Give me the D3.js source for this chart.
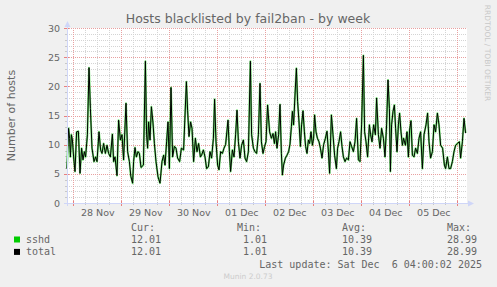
<!DOCTYPE html>
<html>
<head>
<meta charset="utf-8">
<script src="https://cdn.jsdelivr.net/npm/d3@7"></script>
<style>
  body { margin: 0; background: #f0f0f0; }
  svg text { font-family: "DejaVu Sans", sans-serif; }
  .mono { font-family: "DejaVu Sans Mono", monospace !important; white-space: pre; }
</style>
</head>
<body>
<script>
// fail2ban week graph, munin style
var title = "Hosts blacklisted by fail2ban - by week";
var yLabel = "Number of hosts";
var yTicks = [0, 5, 10, 15, 20, 25, 30];
var dayLabels = ["28 Nov", "29 Nov", "30 Nov", "01 Dec", "02 Dec", "03 Dec", "04 Dec", "05 Dec"];

// hours since 27 Nov 20:50, and sshd values
var hours = [0.0,0.8,1.3,1.7,2.2,2.7,3.3,4.0,4.8,5.7,6.5,7.3,8.0,8.7,9.3,10.2,11.0,11.7,12.5,13.5,
  14.3,15.0,16.0,16.8,17.5,18.3,19.2,20.0,20.8,21.7,22.7,23.3,24.0,25.0,25.8,26.7,27.5,28.3,29.5,30.3,
  31.2,31.9,32.8,33.3,34.0,34.7,35.5,36.2,37.0,38.2,39.2,39.8,40.3,40.8,41.5,42.2,43.0,43.7,44.5,45.5,
  46.5,47.5,48.3,49.0,49.8,50.5,51.2,52.0,52.8,53.7,54.5,55.3,56.3,57.2,58.3,59.7,60.3,61.0,61.8,62.5,
  63.3,64.2,65.0,65.8,66.7,67.3,68.2,69.0,69.8,70.7,71.5,72.3,73.2,73.8,74.5,75.3,76.0,76.8,77.7,78.5,
  79.3,80.5,81.2,81.8,82.7,83.5,84.3,85.0,85.7,86.5,87.3,88.2,89.0,89.8,90.7,91.7,92.3,93.2,94.0,94.8,
  95.7,96.5,97.2,98.0,98.8,99.5,100.3,101.3,102.2,103.0,103.7,104.3,105.0,105.8,106.5,107.2,107.7,108.3,109.2,110.0,
  110.8,111.5,112.2,112.7,113.3,114.0,114.7,115.3,116.0,116.7,117.3,118.0,118.7,119.3,120.0,120.7,121.3,122.0,122.7,123.3,
  123.8,124.5,125.2,126.0,126.7,127.5,128.3,129.2,130.0,130.7,131.3,132.2,133.0,133.8,134.7,135.3,136.0,136.8,137.5,138.2,
  139.0,139.8,140.7,141.5,142.3,143.2,144.0,144.8,145.7,146.5,147.3,148.2,148.8,149.5,150.3,151.2,151.8,152.5,153.3,154.2,
  154.8,155.7,156.5,157.3,158.2,159.0,159.8,160.5,161.2,161.7,162.3,163.0,163.7,164.3,165.0,165.7,166.3,167.0,167.7,168.3,
  169.2,170.0,170.7,171.3,172.0,172.7,173.5,174.3,175.2,176.0,176.8,177.7,178.5,179.5,180.3,181.0,181.8,182.7,183.5,184.3,
  185.2,186.0,186.8,187.8,188.7,189.3,190.2,191.0,191.8,192.7,193.5,194.3,195.2,196.2,196.8,197.7,198.5,199.3];
var sshdValues = [5.9,12.8,11.1,7.9,11.7,10.8,7.9,5.4,12.2,12.3,5.1,9.4,7.4,8.8,7.9,11.7,23.2,16.2,9.4,7.1,
  7.9,7.1,12.2,9.1,8.5,10.2,8.5,9.9,8.5,7.9,11.8,7.1,7.9,4.7,14.2,10.8,11.7,7.4,17.1,8.8,
  7.1,4.6,3.4,7.1,9.5,7.9,8.8,8.5,6.1,6.5,24.3,11.7,9.4,13.9,10.8,16.5,13.7,10.2,7.1,4.5,
  3.4,7.1,8.2,6.5,10.5,13.9,5.9,19.8,7.9,9.7,9.4,7.7,7.1,9.4,9.1,20.8,15.9,11.4,13.9,12.8,
  7.1,11.1,8.8,10.2,7.9,8.2,9.1,7.9,5.9,6.2,8.8,7.7,11.1,17.8,10.5,6.5,5.7,8.8,8.5,9.4,
  10.0,14.2,8.8,5.4,9.1,7.9,11.7,15.9,10.5,7.7,9.9,10.8,7.7,7.1,8.8,24.3,11.7,9.4,8.8,8.5,
  11.7,20.5,10.5,8.5,9.7,10.5,16.8,12.2,11.1,11.9,10.2,12.2,9.4,11.7,16.9,8.5,4.8,6.5,7.7,8.2,
  8.8,10.1,13.1,15.7,13.4,18.5,23.1,17.4,13.9,9.7,13.4,15.8,12.2,9.7,8.5,10.8,10.2,12.2,9.9,11.1,
  15.1,12.2,11.1,10.5,9.4,7.7,10.0,11.1,12.3,8.8,5.1,15.1,11.7,8.2,5.9,9.4,10.5,12.2,9.7,7.9,
  7.1,7.7,7.4,10.5,9.7,8.8,10.5,14.5,7.4,7.1,13.4,25.3,12.2,10.5,7.9,13.4,11.7,10.5,13.4,11.7,
  18.0,11.7,9.4,12.8,11.1,7.9,13.4,21.1,16.2,5.4,13.4,15.7,16.8,12.8,8.8,13.4,15.4,12.2,9.9,11.1,
  9.9,12.2,7.9,12.5,14.1,8.2,7.9,9.4,8.5,11.1,12.2,5.9,11.7,13.4,15.4,10.5,7.7,8.8,13.4,12.2,
  15.4,13.4,9.9,9.4,6.5,5.9,7.9,5.9,5.9,7.1,8.8,9.9,10.2,10.5,7.7,10.5,14.5,12.0];
// only one jail, so total is the same curve as sshd
var totalValues = sshdValues.slice();

var seriesNames = ["sshd", "total"];
var curValues = ["12.01", "12.01"];
var minValues = ["1.01", "1.01"];
var avgValues = ["10.39", "10.39"];
var maxValues = ["28.99", "28.99"];

var startTime = new Date(2025, 10, 27, 20, 50);
var endTime = new Date(2025, 11, 6, 4, 50);

var width = 497, height = 287;
var plotLeft = 67, plotRight = 467, plotTop = 28, plotBottom = 203;

var svg = d3.select("body").append("svg")
    .attr("width", width)
    .attr("height", height)
    .style("display", "block");

svg.append("rect")
    .attr("width", width).attr("height", height)
    .attr("fill", "#f0f0f0");

var x = d3.scaleTime().domain([startTime, endTime]).range([plotLeft, plotRight]);
var y = d3.scaleLinear().domain([0, 30]).range([plotBottom, plotTop]);

// canvas
svg.append("rect")
    .attr("x", plotLeft).attr("y", plotTop)
    .attr("width", plotRight - plotLeft).attr("height", plotBottom - plotTop)
    .attr("fill", "#ffffff");

var grid = svg.append("g");

// minor grid
var sixHours = d3.timeHour.every(6).range(startTime, endTime).filter(function (d) { return d.getHours() != 0; });
grid.selectAll(".vminor").data(sixHours).enter().append("line")
    .attr("x1", function (d) { return Math.round(x(d)) + 0.5; })
    .attr("x2", function (d) { return Math.round(x(d)) + 0.5; })
    .attr("y1", plotTop).attr("y2", plotBottom)
    .attr("stroke", "#d4d4d4").attr("stroke-dasharray", "1,1");

var unitTicks = d3.range(1, 30).filter(function (v) { return v % 5 != 0; });
grid.selectAll(".hminor").data(unitTicks).enter().append("line")
    .attr("x1", plotLeft).attr("x2", plotRight)
    .attr("y1", function (d) { return Math.round(y(d)) + 0.5; })
    .attr("y2", function (d) { return Math.round(y(d)) + 0.5; })
    .attr("stroke", "#d4d4d4").attr("stroke-dasharray", "1,1");

// major grid
var midnights = d3.timeDay.range(startTime, endTime);
grid.selectAll(".vmajor").data(midnights).enter().append("line")
    .attr("x1", function (d) { return Math.round(x(d)) + 0.5; })
    .attr("x2", function (d) { return Math.round(x(d)) + 0.5; })
    .attr("y1", plotTop).attr("y2", plotBottom)
    .attr("stroke", "#e8a0a0").attr("stroke-dasharray", "1,1");

grid.selectAll(".hmajor").data(yTicks.slice(1)).enter().append("line")
    .attr("x1", plotLeft).attr("x2", plotRight)
    .attr("y1", function (d) { return Math.round(y(d)) + 0.5; })
    .attr("y2", function (d) { return Math.round(y(d)) + 0.5; })
    .attr("stroke", "#e8a0a0").attr("stroke-dasharray", "1,1");

// small ticks on the axes
svg.selectAll(".xtick").data(sixHours).enter().append("line")
    .attr("x1", function (d) { return Math.round(x(d)) + 0.5; })
    .attr("x2", function (d) { return Math.round(x(d)) + 0.5; })
    .attr("y1", plotBottom - 1).attr("y2", plotBottom + 2)
    .attr("stroke", "#c8c8c8");
svg.selectAll(".xtickM").data(midnights).enter().append("line")
    .attr("x1", function (d) { return Math.round(x(d)) + 0.5; })
    .attr("x2", function (d) { return Math.round(x(d)) + 0.5; })
    .attr("y1", plotBottom - 2).attr("y2", plotBottom + 3)
    .attr("stroke", "#e88080");
svg.selectAll(".ytick").data(unitTicks).enter().append("line")
    .attr("x1", plotLeft - 2).attr("x2", plotLeft + 1)
    .attr("y1", function (d) { return Math.round(y(d)) + 0.5; })
    .attr("y2", function (d) { return Math.round(y(d)) + 0.5; })
    .attr("stroke", "#c8c8c8");
svg.selectAll(".ytickM").data(yTicks).enter().append("line")
    .attr("x1", plotLeft - 3).attr("x2", plotLeft + 2)
    .attr("y1", function (d) { return Math.round(y(d)) + 0.5; })
    .attr("y2", function (d) { return Math.round(y(d)) + 0.5; })
    .attr("stroke", "#e88080");

// lines
var points = hours.map(function (h, i) {
    return { t: new Date(startTime.getTime() + h * 3600000), sshd: sshdValues[i], total: totalValues[i] };
});

var sshdLine = d3.line()
    .x(function (d) { return x(d.t); })
    .y(function (d) { return y(d.sshd); });
var totalLine = d3.line()
    .x(function (d) { return x(d.t); })
    .y(function (d) { return y(d.total); });

svg.append("path").datum(points)
    .attr("d", sshdLine)
    .attr("fill", "none")
    .attr("stroke", "#00cc00")
    .attr("stroke-opacity", 0.55)
    .attr("stroke-width", 2)
    .attr("stroke-linejoin", "round");

svg.append("path").datum(points)
    .attr("d", totalLine)
    .attr("fill", "none")
    .attr("stroke", "#000000")
    .attr("stroke-width", 1)
    .attr("stroke-linejoin", "round");

// axis lines + arrows
svg.append("line")
    .attr("x1", plotLeft + 0.5).attr("x2", plotLeft + 0.5)
    .attr("y1", plotBottom + 3).attr("y2", plotTop - 4)
    .attr("stroke", "#cfd6f8");
svg.append("line")
    .attr("x1", plotLeft - 3).attr("x2", plotRight + 4)
    .attr("y1", plotBottom + 0.5).attr("y2", plotBottom + 0.5)
    .attr("stroke", "#cfd6f8");
svg.append("path")
    .attr("d", "M" + (plotLeft - 2.5) + "," + (plotTop - 1) + "L" + (plotLeft + 0.5) + "," + (plotTop - 7) + "L" + (plotLeft + 3.5) + "," + (plotTop - 1) + "Z")
    .attr("fill", "#cfd6f8");
svg.append("path")
    .attr("d", "M" + (plotRight + 1) + "," + (plotBottom - 2.5) + "L" + (plotRight + 7) + "," + (plotBottom + 0.5) + "L" + (plotRight + 1) + "," + (plotBottom + 3.5) + "Z")
    .attr("fill", "#cfd6f8");

// tick labels through d3 axes
var noonDates = midnights.map(function (d) { return d3.timeHour.offset(d, 12); });
var xAxis = d3.axisBottom(x)
    .tickValues(noonDates)
    .tickFormat(function (d, i) { return dayLabels[i]; })
    .tickSize(0).tickPadding(6);
var gx = svg.append("g").attr("transform", "translate(0," + plotBottom + ")").call(xAxis);
gx.select(".domain").remove();
gx.selectAll("text")
    .attr("fill", "#666666")
    .style("font-family", "DejaVu Sans")
    .style("font-size", "9.5px");

var yAxis = d3.axisLeft(y).tickValues(yTicks).tickSize(0).tickPadding(7);
var gy = svg.append("g").attr("transform", "translate(" + plotLeft + ",0)").call(yAxis);
gy.select(".domain").remove();
gy.selectAll("text")
    .attr("fill", "#666666")
    .style("font-family", "DejaVu Sans")
    .style("font-size", "9.5px");

// title and labels
svg.append("text")
    .attr("x", 248).attr("y", 23)
    .attr("text-anchor", "middle")
    .attr("fill", "#666666")
    .style("font-size", "12.5px")
    .text(title);

svg.append("text")
    .attr("transform", "translate(15," + ((plotTop + plotBottom) / 2) + ") rotate(-90)")
    .attr("text-anchor", "middle")
    .attr("fill", "#666666")
    .style("font-size", "11px")
    .text(yLabel);

svg.append("text")
    .attr("transform", "translate(485,53) rotate(90)")
    .attr("text-anchor", "middle")
    .attr("fill", "#c8c8c8")
    .style("font-size", "7.5px")
    .text("RRDTOOL / TOBI OETIKER");

// legend
var colX = [131, 237, 342, 447];
var valX = [131, 243, 342, 447];
var heads = ["Cur:", "Min:", "Avg:", "Max:"];
svg.selectAll(".head").data(heads).enter().append("text")
    .attr("class", "mono")
    .attr("x", function (d, i) { return colX[i]; })
    .attr("y", 231)
    .attr("fill", "#666666")
    .style("font-size", "10px")
    .text(function (d) { return d; });

var swatchColors = ["#00cc00", "#000000"];
seriesNames.forEach(function (name, i) {
    var by = 243 + i * 12.4;
    svg.append("rect")
        .attr("x", 14).attr("y", by - 6.5)
        .attr("width", 6).attr("height", 6)
        .attr("fill", swatchColors[i]);
    var row = [name, curValues[i], minValues[i], avgValues[i], maxValues[i]];
    var rx = [26].concat(valX);
    svg.selectAll(".row" + i).data(row).enter().append("text")
        .attr("class", "mono")
        .attr("x", function (d, j) { return rx[j]; })
        .attr("y", by)
        .attr("fill", "#666666")
        .style("font-size", "10px")
        .text(function (d) { return d; });
});

svg.append("text")
    .attr("class", "mono")
    .attr("x", 482).attr("y", 267.5)
    .attr("text-anchor", "end")
    .attr("fill", "#666666")
    .style("font-size", "10px")
    .text("Last update: Sat Dec  6 04:00:02 2025");

svg.append("text")
    .attr("x", 248).attr("y", 279)
    .attr("text-anchor", "middle")
    .attr("fill", "#cccccc")
    .style("font-size", "7.5px")
    .text("Munin 2.0.73");
</script>
</body>
</html>
